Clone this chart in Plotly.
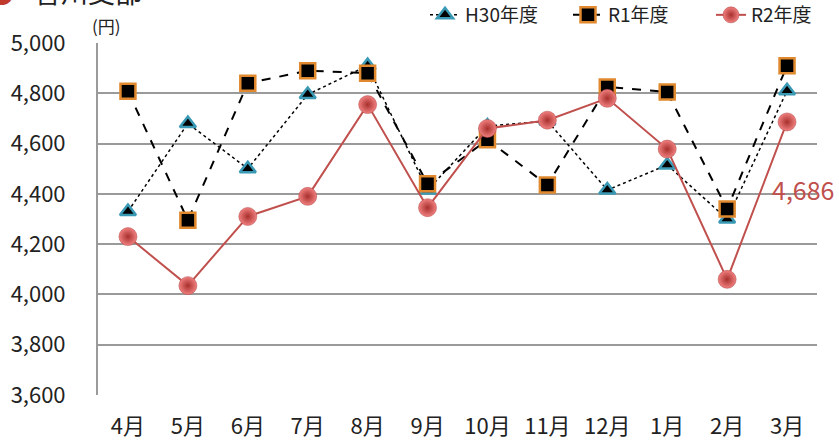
import plotly.graph_objects as go

months = ["4月", "5月", "6月", "7月", "8月", "9月", "10月", "11月", "12月", "1月", "2月", "3月"]
h30 = [4330, 4680, 4500, 4795, 4910, 4415, 4670, 4690, 4415, 4515, 4300, 4810]
r1 = [4808, 4295, 4840, 4890, 4880, 4440, 4615, 4435, 4825, 4805, 4340, 4910]
r2 = [4230, 4035, 4310, 4390, 4755, 4345, 4660, 4693, 4780, 4578, 4060, 4686]
names = ["H30年度", "R1年度", "R2年度"]
last_label = "4,686"
title_text = "香川支部"

FONT = "Noto Sans CJK JP"
PW, PH = 719, 352
fig = go.Figure()

fig.add_trace(go.Scatter(
    x=months, y=h30, name=names[0], mode="lines+markers",
    line=dict(color="black", width=1.5, dash="dot"),
    marker=dict(symbol="triangle-up", size=14, color="black",
                line=dict(color="#3A9AB5", width=2.5)),
))
fig.add_trace(go.Scatter(
    x=months, y=r1, name=names[1], mode="lines+markers",
    line=dict(color="black", width=2, dash="dash"),
    marker=dict(symbol="square", size=15, color="black",
                line=dict(color="#E0892E", width=2.5)),
))
fig.add_trace(go.Scatter(
    x=months, y=r2, name=names[2], mode="lines+markers",
    line=dict(color="#C0504D", width=2),
    marker=dict(symbol="circle", size=18, color="#F08080",
                gradient=dict(type="radial", color="#A8302C"),
                line=dict(color="#B04340", width=0.5)),
))

fig.add_annotation(
    x=months[-1], y=r2[-1], text=last_label, showarrow=False,
    xshift=16, yshift=-67, font=dict(family=FONT, size=25, color="#C0504D"),
)
fig.add_annotation(
    xref="paper", yref="paper", x=-8 / PW, y=1.0 + (43 - 40) / PH,
    xanchor="left", yanchor="bottom", text="(円)", showarrow=False,
    font=dict(family=FONT, size=17, color="#222"),
)
fig.add_annotation(
    xref="paper", yref="paper", x=-66 / PW, y=1.0 + (43 - 13) / PH,
    xanchor="left", yanchor="bottom", text=title_text, showarrow=False,
    font=dict(family=FONT, size=27, color="#222"),
)
fig.add_annotation(
    xref="paper", yref="paper", x=-110 / PW, y=1.0 + (43 - 12) / PH,
    xanchor="left", yanchor="bottom", text="●", showarrow=False,
    font=dict(family=FONT, size=24, color="#C0392B"),
)

fig.update_layout(
    width=839, height=440,
    margin=dict(l=98, r=22, t=43, b=45, autoexpand=False),
    paper_bgcolor="white", plot_bgcolor="white",
    font=dict(family=FONT, color="#222"),
    showlegend=True,
    legend=dict(orientation="h", x=(425 - 98) / PW, xanchor="left", y=1.0 + (43 - 15) / PH,
                yanchor="middle", font=dict(family=FONT, size=19, color="#222"),
                entrywidth=98, entrywidthmode="pixels",
                bgcolor="rgba(0,0,0,0)"),
    xaxis=dict(range=[-0.5, len(months) - 0.5], showgrid=False, showline=False, zeroline=False,
               tickfont=dict(family=FONT, size=22, color="#222"),
               ticks="outside", ticklen=12, tickcolor="rgba(0,0,0,0)"),
    yaxis=dict(range=[3600, 5000], dtick=200, tickformat=",",
               showgrid=True, gridcolor="#9a9a9a", gridwidth=2,
               showline=True, linecolor="#9a9a9a", linewidth=2,
               zeroline=False,
               tickfont=dict(family=FONT, size=22, color="#222"),
               ticks="outside", ticklen=26, tickcolor="rgba(0,0,0,0)"),
)

fig.write_html("out.html", config={"displayModeBar": False},
               post_script="document.body.style.margin='0';document.body.style.overflow='hidden';")
